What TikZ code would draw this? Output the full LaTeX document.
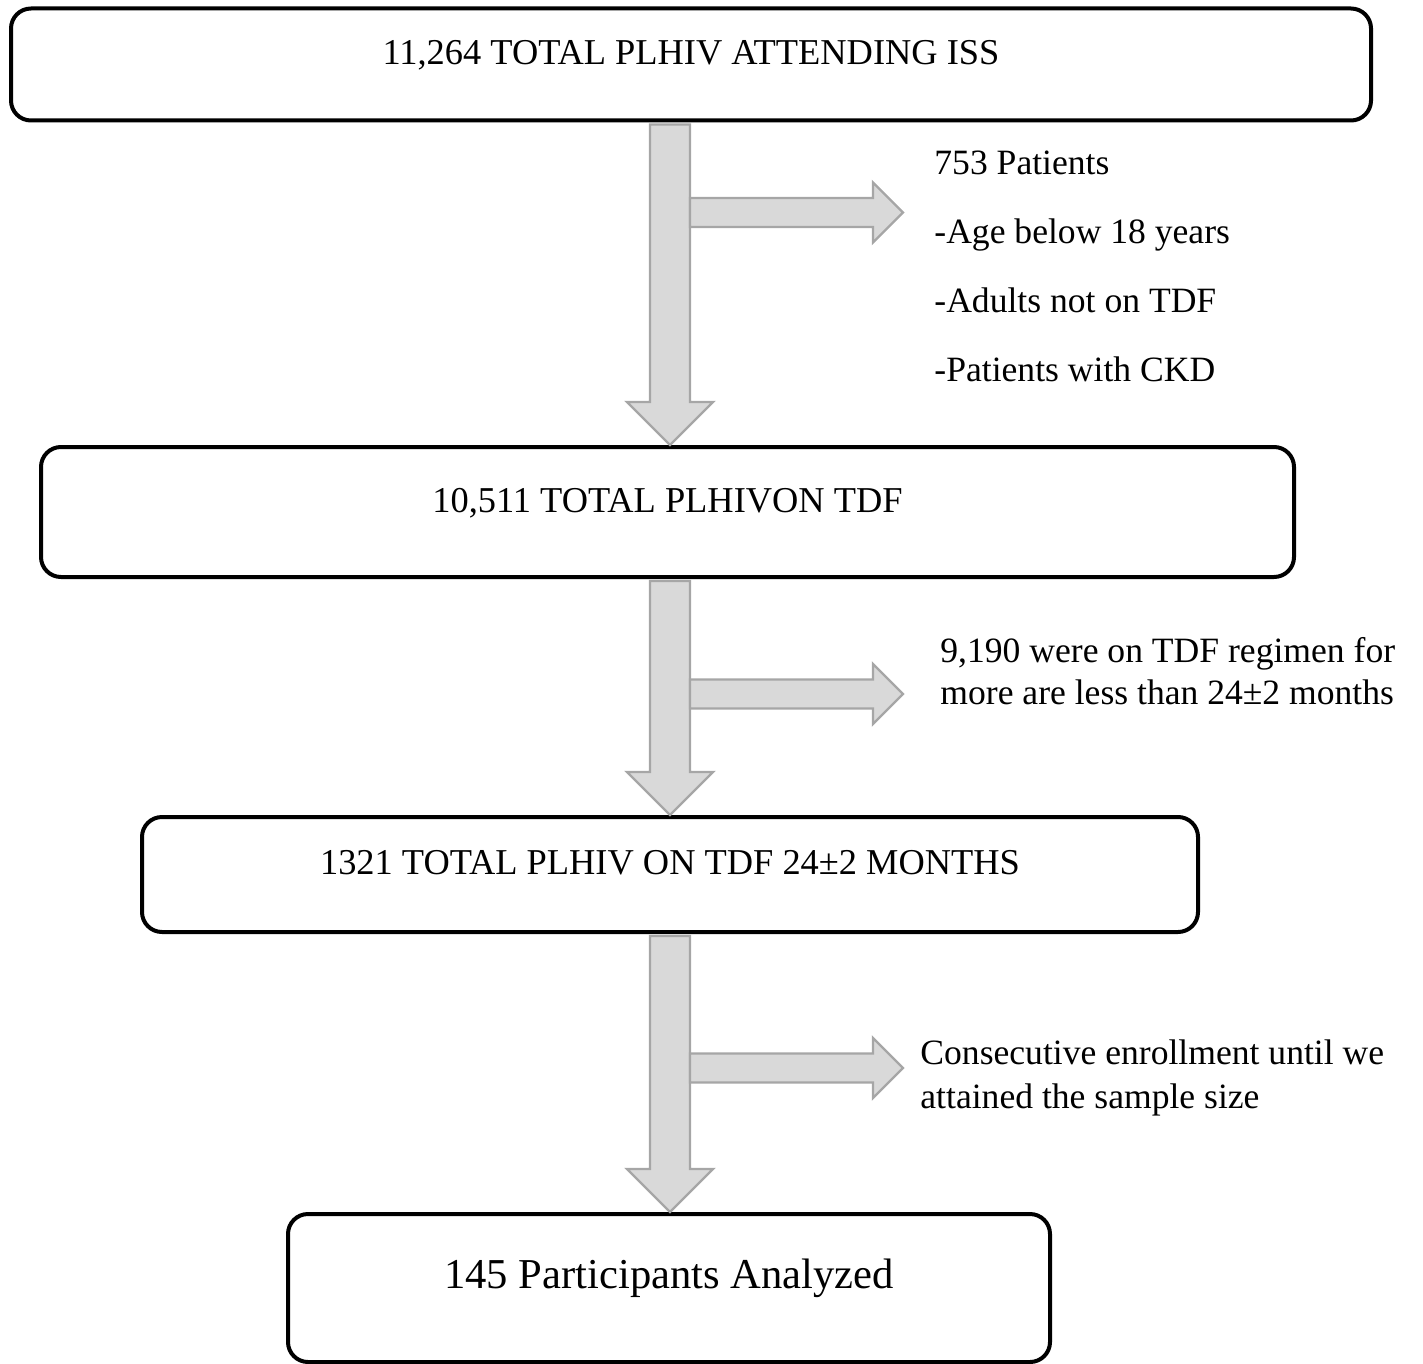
\documentclass[tikz,border=0pt]{standalone}
\usepackage{fontspec}
\setmainfont{Liberation Serif}
\usepackage{tikz}
\usetikzlibrary{positioning,calc}
\definecolor{grelleno}{HTML}{D9D9D9}
\definecolor{gborde}{HTML}{A6A6A6}
\tikzset{
  caja/.style={rectangle, rounded corners=10pt, draw=black, line width=2pt,
    align=center, inner sep=0pt, text height=0pt, text depth=0pt,
    font=\fontsize{18.2}{21}\selectfont},
  nota/.style={anchor=north west, align=left, inner sep=0pt},
  bloque/.style={fill=grelleno, draw=gborde, line width=1.2pt},
}
% flecha gruesa en T: #1 caja de arriba, #2 caja de abajo, #3 altura de la rama
\newcommand{\flechaT}[3]{%
  \filldraw[bloque] ($(eje |- #1.south)+(-20,2)$) -- ($(eje |- #2.north)+(-20,-43)$)
    -- ++(-23,0) -- (eje |- #2.north) -- ($(eje |- #2.north)+(43,-43)$)
    -- ++(-23,0) -- ($(eje |- #1.south)+(20,2)$) -- cycle;
  \filldraw[bloque] ($(eje)+(20,#3-14.5)$) -- ++(183,0) -- ++(0,-15.5)
    -- ($(eje)+(233,#3)$) -- ($(eje)+(203,#3+30)$) -- ++(0,-15.5)
    -- ($(eje)+(20,#3+14.5)$) -- cycle;
}

\begin{document}
\begin{tikzpicture}[x=0.5pt, y=-0.5pt]
  \useasboundingbox (0,0) rectangle (1423,1364);
  \coordinate (eje) at (670,0);

  \node[caja, minimum width=680pt, minimum height=56pt] (total) at (691,64.5)
    {11,264 TOTAL PLHIV ATTENDING ISS};
  \node[caja, minimum width=626.5pt, minimum height=65pt] (entdf) at (667.5,512)
    {10,511 TOTAL PLHIVON TDF};
  \node[caja, minimum width=528pt, minimum height=57.5pt] (meses) at (670,874.5)
    {1321 TOTAL PLHIV ON TDF 24±2 MONTHS};
  \node[caja, minimum width=381pt, minimum height=74pt,
    font=\fontsize{21.3}{25}\selectfont] (analiz) at (669,1288)
    {145 Participants Analyzed};

  \node[nota, font=\fontsize{17.8}{34.5}\selectfont] (excl) at (934,151)
    {753 Patients\\-Age below 18 years\\-Adults not on TDF\\-Patients with CKD};
  \node[nota, font=\fontsize{17.8}{21}\selectfont] (regimen) at (940,637)
    {9,190 were on TDF regimen for\\more are less than 24±2 months};
  \node[nota, font=\fontsize{17.8}{22}\selectfont] (muestra) at (920,1039)
    {Consecutive enrollment until we\\attained the sample size};

  \flechaT{total}{entdf}{212.5}
  \flechaT{entdf}{meses}{694}
  \flechaT{meses}{analiz}{1068}
\end{tikzpicture}
\end{document}
